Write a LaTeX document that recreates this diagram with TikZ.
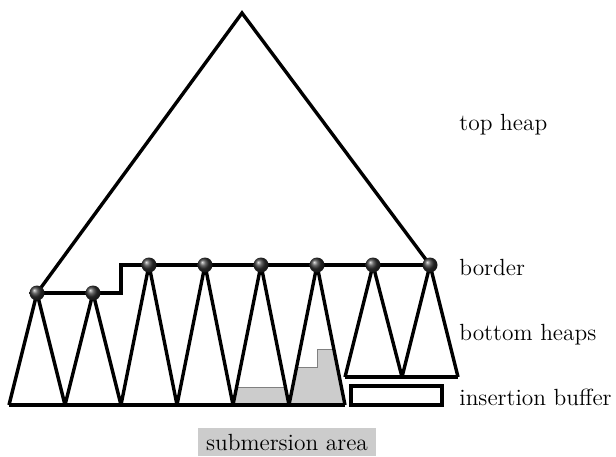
\documentclass[tikz,border=0pt]{standalone}
\usetikzlibrary{shadings}
\begin{document}
\begin{tikzpicture}[x=0.5pt,y=-0.5pt,
  heapline/.style={line width=1.7pt,line join=round},
  marker/.style={circle,inner sep=0pt,minimum size=7.5pt,shading=ball,ball color=black!80},
  sunk/.style={fill=black!20,draw=black!50,line width=0.5pt},
  lbl/.style={anchor=west,inner sep=0pt,font=\fontsize{11.7}{14}\selectfont}]
\useasboundingbox (0,0) rectangle (616,456);

% tree apex and bottom corners
\coordinate (apex) at (242,13);
\foreach \i/\x in {0/9,1/65,2/121,3/177,4/233,5/289,6/345}
  \coordinate (b\i) at (\x,405);
\coordinate (r0) at (345,377);
\coordinate (r1) at (402,377);
\coordinate (r2) at (458,377);
\coordinate (step) at (121,293);
\coordinate (stepup) at (121,265);

% border positions
\coordinate (p1) at (37,293);
\coordinate (p2) at (93,293);
\coordinate (p3) at (149,265);
\coordinate (p4) at (205,265);
\coordinate (p5) at (261,265);
\coordinate (p6) at (317,265);
\coordinate (p7) at (373,265);
\coordinate (p8) at (430,265);

% submerged parts of two bottom heaps
\begin{scope}
  \clip (b4) -- (p5) -- (b5) -- cycle;
  \path[sunk] (200,387) -- (320,387) -- (320,420) -- (200,420) -- cycle;
\end{scope}
\begin{scope}
  \clip (b5) -- (p6) -- (b6) -- cycle;
  \path[sunk] (280,367) -- (317,367) -- (317,349) -- (360,349) -- (360,420) -- (280,420) -- cycle;
\end{scope}

% top heap
\draw[heapline,line join=miter] (p1) -- (apex) -- (p8);
% border line
\draw[heapline,line join=miter] (p1) -- (p2) -- (step) -- (stepup) -- (p3) -- (p4) -- (p5) -- (p6) -- (p7) -- (p8);
% bottom heaps
\draw[heapline] (b0) -- (b6);
\draw[heapline] (b0) -- (p1) -- (b1) -- (p2) -- (b2) -- (p3) -- (b3) -- (p4) -- (b4) -- (p5) -- (b5) -- (p6) -- (b6);
\draw[heapline] (r0) -- (r2);
\draw[heapline] (r0) -- (p7) -- (r1) -- (p8) -- (r2);
% insertion buffer
\draw[heapline,line join=miter] (351,386) rectangle (442,405);

% border markers
\foreach \i in {1,...,8}
  \node[marker] (m\i) at (p\i) {};

% labels
\node[lbl] (ltop) at (459,125) {top heap};
\node[lbl] (lborder) at (459,267) {border};
\node[lbl] (lbottom) at (459,335) {bottom heaps};
\node[lbl] (lbuffer) at (459,397) {insertion buffer};
\node[fill=black!20,inner xsep=4pt,inner ysep=0pt,minimum height=14pt,
      font=\fontsize{11.7}{14}\selectfont] (lsub) at (287,442) {submersion area};
\end{tikzpicture}
\end{document}
